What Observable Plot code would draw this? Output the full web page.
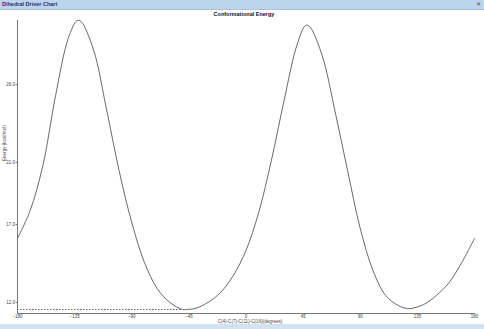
<!DOCTYPE html>
<html>
<head>
<meta charset="utf-8">
<script src="https://cdn.jsdelivr.net/npm/d3@7"></script>
<script src="https://cdn.jsdelivr.net/npm/@observablehq/plot@0.6"></script>
<style>
  body { margin: 0; width: 484px; height: 329px; position: relative; overflow: hidden; background: #fff; }
  #bar { position: absolute; left: 0; top: 0; width: 484px; height: 9px; background: #bdd4ee; border-bottom: 1px solid #a9c3e2; font: bold 5.5px "Liberation Sans", sans-serif; color: #1d2f5a; line-height: 9px; z-index: 2; }
  #bar span.t { position: absolute; left: 2px; }
  #bar span.x { position: absolute; right: 3px; font-weight: normal; color: #555; }
  #foot { position: absolute; left: 0; top: 324px; width: 484px; height: 5px; background: #d3e2f3; z-index: 2; }
  #title { position: absolute; left: 0; width: 484px; top: 11px; text-align: center; font: bold 5.5px "Liberation Sans", sans-serif; color: #111; z-index: 2; padding-left: 4px; box-sizing: border-box; }
  #chart { position: absolute; left: 0; top: 0; }
</style>
</head>
<body>
<div id="chart"></div>
<div id="bar"><span class="t">Dihedral Driver Chart</span><span class="x">✕</span></div>
<div id="title">Conformational Energy</div>
<div id="foot"></div>
<script>
const angles = [-180,-170,-160,-150,-140,-133,-130,-120,-110,-100,-90,-80,-70,-60,-50,-45,-40,-30,-20,-10,0,10,20,30,40,47,50,60,70,80,90,100,110,120,127,130,140,150,160,170,180];
const energies = [16.11,17.91,20.8,25.29,28.96,30.11,30.05,28.2,24.46,20.48,17.14,14.57,12.9,12.0,11.55,11.56,11.61,12.0,12.64,13.73,15.34,17.78,21.12,24.97,28.5,29.8,29.73,27.86,24.33,20.48,16.75,14.06,12.45,11.8,11.61,11.61,11.87,12.45,13.28,14.57,16.11];
const xTicks = [-180,-135,-90,-45,0,45,90,135,180];
const yTicks = [12,17,21,26];
const xLabel = "C(4)-C(7)-C(11)-C(16)(degrees)";
const yLabel = "Energy (kcal/mol)";
const minAngle = -50;
const minEnergy = 11.55;

const data = angles.map((a, i) => ({angle: a, energy: energies[i]}));

const chart = Plot.plot({
  width: 484,
  height: 329,
  marginTop: 20,
  marginBottom: 16,
  marginLeft: 17,
  marginRight: 10,
  style: {fontFamily: "Liberation Sans, sans-serif", fontSize: "4.5px", background: "#fff", color: "#444"},
  x: {domain: [-180, 180]},
  y: {domain: [11.29, 30.11]},
  marks: [
    Plot.ruleY([minEnergy], {x1: -180, x2: minAngle, stroke: "#333", strokeWidth: 0.8, strokeDasharray: "1.5,1.5"}),
    Plot.line(data, {x: "angle", y: "energy", stroke: "#444", strokeWidth: 0.8, curve: "catmull-rom"}),
    Plot.axisX(xTicks, {tickSize: 1, tickPadding: 0.5, label: null, fontSize: 4.5, stroke: "#777", fill: "#444"}),
    Plot.axisY(yTicks, {tickSize: 1.5, tickPadding: 1, label: null, tickFormat: d3.format(".1f"), fontSize: 4.5, stroke: "#777", fill: "#444"}),
    Plot.ruleX([-180], {stroke: "#777", strokeWidth: 1}),
    Plot.ruleY([11.29], {stroke: "#777", strokeWidth: 1}),
    Plot.text([xLabel], {frameAnchor: "bottom", dy: 9.5, dx: 4, fontSize: 4.6, fill: "#444"}),
    Plot.text([yLabel], {frameAnchor: "left", rotate: -90, dx: -13, dy: -6, fontSize: 4.6, fill: "#444"})
  ]
});
document.getElementById("chart").appendChild(chart);
</script>
</body>
</html>
